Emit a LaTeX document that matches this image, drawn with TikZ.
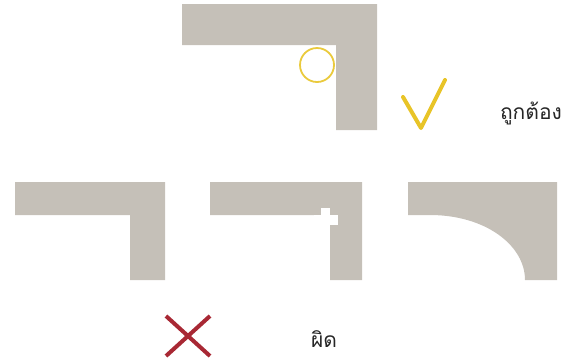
\documentclass[tikz,border=0pt]{standalone}
\usepackage{fontspec}
\newfontfamily\thaifont[Script=Thai]{Loma}
\definecolor{panelGray}{RGB}{197,192,184}
\definecolor{markGold}{RGB}{232,196,40}
\definecolor{markRed}{RGB}{168,40,52}

\begin{document}
\begin{tikzpicture}[x=1pt, y=-1pt,
    panel/.style={fill=panelGray, draw=none},
    okmark/.style={markGold, line width=4pt, line cap=round, line join=round},
    badmark/.style={markRed, line width=4pt, line cap=butt},
    caption/.style={font=\thaifont\fontsize{21}{24}\selectfont, text=black!85, inner sep=0pt}]

    \useasboundingbox (0,0) rectangle (570,360);

    % 1. CORRECT CORNER (top)
    \fill[panel] (182,4) -- (377,4) -- (377,130) -- (336,130) -- (336,45) -- (182,45) -- cycle;
    \draw[markGold!90, line width=1.8pt] (317,65) circle (17);

    % tick + label
    \draw[okmark] (403,97) -- (421,128) -- (445,80);
    \node[caption] (ok) at (531,113) {ถูกต้อง};

    % 2. WRONG CORNERS (bottom row)
    % a) plain square corner
    \fill[panel] (15,182) -- (165,182) -- (165,280) -- (130,280) -- (130,215) -- (15,215) -- cycle;

    % b) corner with cross cut
    \fill[panel] (210,182) -- (362,182) -- (362,280) -- (330,280) -- (330,215) -- (210,215) -- cycle;
    \fill[white] (321,208) rectangle (330,232);
    \fill[white] (314,215) rectangle (338,225);

    % c) rounded corner
    \fill[panel] (408,182) -- (557,182) -- (557,280) -- (525,280)
        .. controls (525,245) and (485,215) .. (430,215) -- (408,215) -- cycle;

    % cross + label
    \draw[badmark] (166,316) -- (210,356);
    \draw[badmark] (210,316) -- (166,356);
    \node[caption] (bad) at (324,339) {ผิด};

\end{tikzpicture}
\end{document}
